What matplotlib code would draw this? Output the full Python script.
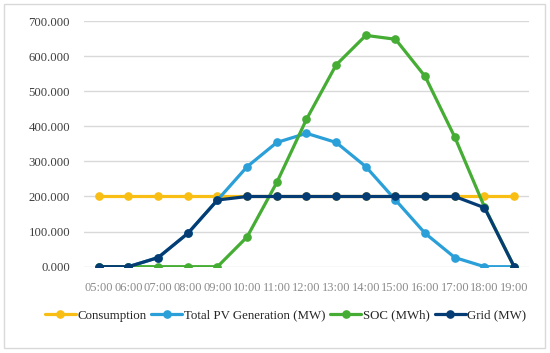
import matplotlib
matplotlib.use("Agg")
import matplotlib.pyplot as plt
from matplotlib.patches import Rectangle

plt.rcParams["font.family"] = ["Liberation Serif", "DejaVu Serif"]

# Data
hours = ["05:00", "06:00", "07:00", "08:00", "09:00", "10:00", "11:00", "12:00",
         "13:00", "14:00", "15:00", "16:00", "17:00", "18:00", "19:00"]
consumption = [200, 200, 200, 200, 200, 200, 200, 200, 200, 200, 200, 200, 200, 200, 200]
pv_generation = [0, 0, 26, 95, 190, 285, 354, 380, 354, 285, 190, 95, 26, 0, 0]
soc = [0, 0, 0, 0, 0, 85, 240, 420, 575, 659, 648, 542, 369, 170, 0]
grid = [0, 0, 26, 95, 190, 200, 200, 200, 200, 200, 200, 200, 200, 168, 0]

series = [
    ("Consumption", consumption, "#F9BE14"),
    ("Total PV Generation (MW)", pv_generation, "#2A9FD8"),
    ("SOC (MWh)", soc, "#45AC34"),
    ("Grid (MW)", grid, "#053C73"),
]

fig = plt.figure(figsize=(5.5, 3.53), dpi=100)
ax = fig.add_axes([0.1527, 0.2445, 0.8091, 0.696])

x = list(range(len(hours)))
for name, values, color in series:
    ax.plot(x, values, color=color, lw=2.3, marker="o", markersize=5.2,
            label=name, solid_capstyle="round")

ax.set_xlim(-0.5, len(hours) - 0.5)
ax.set_ylim(0, 700)
ax.set_yticks(range(0, 701, 100))
ax.set_yticklabels([f"{v:.3f}" for v in range(0, 701, 100)])
ax.set_xticks(x)
ax.set_xticklabels(hours)
ax.tick_params(axis="y", length=0, pad=10, labelsize=9.2, labelcolor="#404040")
ax.tick_params(axis="x", length=0, pad=11, labelsize=9, labelcolor="#8c8c8c")
ax.yaxis.grid(True, color="#d9d9d9", lw=1)
ax.set_axisbelow(True)
for s in ax.spines.values():
    s.set_visible(False)

fig.legend(loc="center", bbox_to_anchor=(0.519, 0.106), ncol=4, frameon=False,
           fontsize=9.3, handlelength=2.4, handletextpad=0.1, columnspacing=0.4,
           labelcolor="#262626")

# chart border
fig.patches.append(Rectangle((4 / 550, 5 / 353), 541 / 550, 344 / 353,
                             transform=fig.transFigure, fill=False,
                             edgecolor="#d9d9d9", lw=1))

fig.savefig("out.png", dpi=100)
